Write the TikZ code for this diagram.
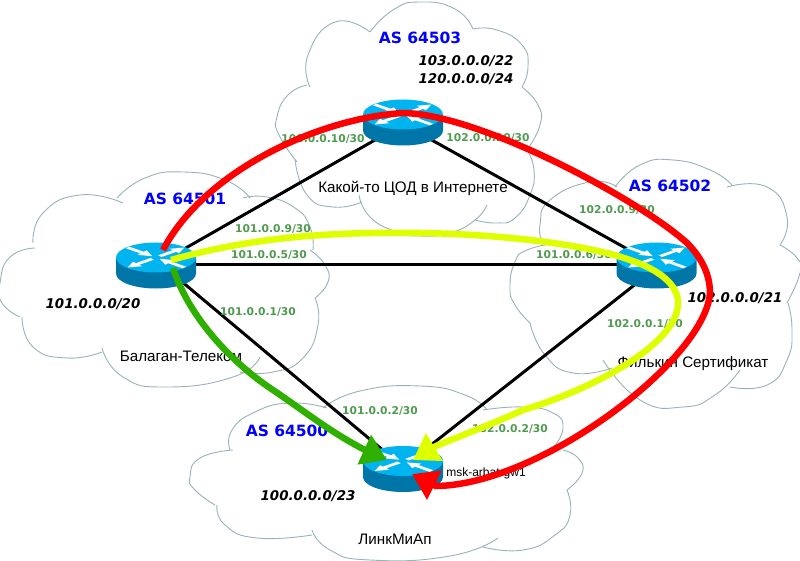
\documentclass[tikz,border=0pt]{standalone}
\usepackage{fontspec}
\setmainfont{Liberation Sans}
\newfontfamily\vfont{DejaVu Sans}
\usetikzlibrary{arrows.meta}
\definecolor{cloudc}{HTML}{98B2B8}
\definecolor{ipc}{HTML}{4E9A4E}
\definecolor{rtop}{HTML}{00B4F0}
\definecolor{rside}{HTML}{0076A8}
\definecolor{lime}{HTML}{DDFF00}
\definecolor{grn}{HTML}{2FB000}
\newcommand{\lobe}[1]{\draw[cloudline] plot[smooth,tension=.9] coordinates {#1};}
\tikzset{
 cloudline/.style={draw=cloudc,line width=0.9pt},
 link/.style={draw=black,line width=3pt},
 route/.style={line width=6.5pt,-{Triangle[length=25pt,width=31pt]}},
 asl/.style={font=\fontsize{15.5}{15.5}\selectfont\vfont\bfseries,text=blue,inner sep=0},
 ipl/.style={font=\fontsize{10.7}{10.7}\selectfont\vfont\bfseries,text=ipc,inner sep=0},
 netl/.style={font=\fontsize{13.4}{13.4}\selectfont\vfont\bfseries\itshape,inner sep=0},
 namel/.style={font=\fontsize{15.2}{15.2}\selectfont,inner sep=0},
 router/.pic={
  \fill[rside] (-40,-8) -- (-40,8) arc[x radius=40,y radius=15,start angle=180,end angle=0] -- (40,-8) -- cycle;
  \fill[rtop] (0,-8) ellipse[x radius=40,y radius=15];
  \foreach \a in {40,220}{
   \fill[white,shift={(0,-8)},yscale=.42,rotate=\a] (5,-2.6) -- (24,-2.6) -- (24,-7) -- (37,0) -- (24,7) -- (24,2.6) -- (5,2.6) -- cycle;}
  \foreach \a in {140,320}{
   \fill[white,shift={(0,-8)},yscale=.42,rotate=\a] (37,-2.6) -- (18,-2.6) -- (18,-7) -- (5,0) -- (18,7) -- (18,2.6) -- (37,2.6) -- cycle;}
 }
}
\begin{document}
\begin{tikzpicture}[x=1pt,y=-1pt]
\useasboundingbox (0,0) rectangle (800,561);
% top cloud
\lobe{(297,162)(279,135)(277,117)(288,95)(307,85)}
\lobe{(310,87)(308,55)(335,22)(370,32)}
\lobe{(370,32)(393,10)(420,2)(455,9)(473,29)}
\lobe{(473,29)(497,30)(522,45)(528,67)(522,87)}
\lobe{(522,87)(538,105)(540,125)(527,150)}
\lobe{(527,150)(534,170)(530,195)(515,218)(497,223)(475,220)}
\lobe{(487,205)(475,220)(450,233)(420,236)(397,232)(370,217)(359,195)}
\lobe{(362,202)(333,207)(307,195)(295,160)}
% left cloud
\lobe{(20,317)(2,303)(0,283)(10,257)(35,248)}
\lobe{(33,243)(43,213)(80,195)(123,203)}
\lobe{(117,198)(145,178)(183,172)(225,180)(250,198)}
\lobe{(243,198)(267,197)(295,208)(310,227)(313,250)}
\lobe{(310,250)(325,265)(328,282)(315,298)}
\lobe{(315,298)(318,325)(303,358)(273,372)(240,372)}
\lobe{(260,357)(233,377)(167,387)(123,377)(102,348)}
\lobe{(102,352)(67,358)(33,347)(22,317)}
% right cloud
\lobe{(530,323)(515,305)(510,287)(515,262)(527,250)(557,243)}
\lobe{(542,240)(540,225)(550,200)(590,182)(617,187)}
\lobe{(615,187)(640,165)(673,160)(710,170)(732,185)}
\lobe{(727,187)(767,187)(787,217)(780,245)}
\lobe{(780,245)(797,258)(800,273)(787,303)}
\lobe{(788,303)(792,330)(787,360)(767,385)(730,387)}
\lobe{(740,370)(715,395)(683,407)(640,400)(603,360)}
\lobe{(612,368)(573,373)(545,355)(530,323)}
% bottom cloud
\lobe{(215,505)(195,490)(190,477)(200,458)(233,450)}
\lobe{(230,450)(232,430)(255,412)(290,403)(327,408)}
\lobe{(323,408)(360,391)(420,386)(465,395)(487,410)}
\lobe{(483,410)(523,407)(553,413)(563,428)(553,448)}
\lobe{(563,450)(578,458)(582,473)(567,490)}
\lobe{(567,490)(570,515)(555,535)(523,550)(483,547)}
\lobe{(498,538)(450,556)(370,560)(330,550)(312,530)}
\lobe{(312,535)(257,538)(225,525)(217,505)}
% links
\coordinate (rt) at (403,124);
\coordinate (rl) at (156,265);
\coordinate (rr) at (656,265);
\coordinate (rb) at (403,467);
\draw[link] (rl) -- (rt);
\draw[link] (rt) -- (rr);
\draw[link] (rl) -- (rr);
\draw[link] (156,260) -- (rb);
\draw[link] (656,268) -- (rb);
% routers
\pic at (403,122.5) {router};
\pic at (156,265.5) {router};
\pic at (656.5,265.5) {router};
\pic at (403,469) {router};
% labels
\node[asl] (a3) at (420,38) {AS 64503};
\node[asl] (a1) at (185,199) {AS 64501};
\node[asl] (a2) at (670,186) {AS 64502};
\node[asl] (a0) at (287,431) {AS 64500};
\node[netl] (n1) at (466,61) {103.0.0.0/22};
\node[netl] (n2) at (466,79) {120.0.0.0/24};
\node[netl] (n3) at (93,304) {101.0.0.0/20};
\node[netl] (n4) at (735,298) {102.0.0.0/21};
\node[netl] (n5) at (308,496) {100.0.0.0/23};
\node[namel] (t1) at (413,188) {Какой-то ЦОД в Интернете};
\node[namel] (t2) at (181,356) {Балаган-Телеком};
\node[namel] (t3) at (693,364) {Филькин Сертификат};
\node[namel] (t4) at (395,539) {ЛинкМиАп};
\node[font=\fontsize{12}{12}\selectfont,inner sep=0] (t5) at (486,473) {msk-arbat-gw1};
\node[ipl] at (323,139) {100.0.0.10/30};
\node[ipl] at (488,138) {102.0.0.10/30};
\node[ipl] at (273,229) {101.0.0.9/30};
\node[ipl] at (269,255) {101.0.0.5/30};
\node[ipl] at (258,312) {101.0.0.1/30};
\node[ipl] at (380,411) {101.0.0.2/30};
\node[ipl] at (510,429) {102.0.0.2/30};
\node[ipl] at (617,210) {102.0.0.9/30};
\node[ipl] at (574,255) {101.0.0.6/30};
\node[ipl] at (645,324) {102.0.0.1/30};
% routes
\draw[route,red] (163,250) .. controls (205,170) and (320,118) .. (403,113) .. controls (480,114) and (640,200) .. (687,243) .. controls (702,258) and (710,275) .. (710,293) .. controls (705,360) and (540,485) .. (436,486) -- (412,474);
\draw[route,lime] (171,260) .. controls (260,235) and (340,232) .. (420,233) .. controls (500,234) and (590,245) .. (630,260) .. controls (660,270) and (678,285) .. (678,303) .. controls (678,345) and (590,390) .. (523,410) .. controls (490,425) and (460,436) .. (436,446) -- (413,460);
\draw[route,grn] (173,268) .. controls (190,320) and (235,365) .. (273,390) .. controls (300,408) and (330,432) .. (365,450) -- (387,460);
\end{tikzpicture}
\end{document}
